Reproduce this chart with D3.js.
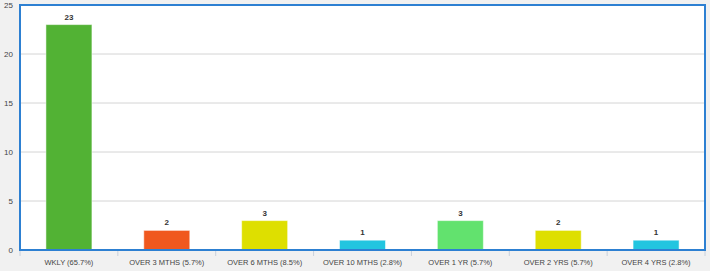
<!DOCTYPE html>
<html lang="en">
<head>
  <meta charset="UTF-8">
  <title>Frequency</title>
  <script src="https://d3js.org/d3.v7.min.js"></script>
  <style>
    body { margin: 0; background: #f1f1f1; font-family: "Liberation Sans", Arial, sans-serif; }
    svg { display: block; }
  </style>
</head>
<body>
  <svg width="710" height="271"></svg>
  <script>
    const categories = ["WKLY (65.7%)", "OVER 3 MTHS (5.7%)", "OVER 6 MTHS (8.5%)", "OVER 10 MTHS (2.8%)",
                        "OVER 1 YR (5.7%)", "OVER 2 YRS (5.7%)", "OVER 4 YRS (2.8%)"];
    const values = [23, 2, 3, 1, 3, 2, 1];
    const colors = ["#52b234", "#f0581e", "#dedf00", "#22c5e0", "#62e26e", "#dedf00", "#22c5e0"];
    const yTicks = [0, 5, 10, 15, 20, 25];

    const svg = d3.select("svg");
    const plotL = 20, plotR = 705, plotT = 5, plotB = 250;

    const x = d3.scaleBand().domain(categories).range([plotL, plotR]).paddingInner(0.53).paddingOuter(0.265);
    const y = d3.scaleLinear().domain([0, 25]).range([plotB, plotT]);

    // plot background
    svg.append("rect")
      .attr("x", plotL).attr("y", plotT)
      .attr("width", plotR - plotL).attr("height", plotB - plotT)
      .attr("fill", "#fff");

    // gridlines
    svg.selectAll("line.grid")
      .data(yTicks.filter(d => d > 0 && d < 25))
      .join("line")
      .attr("x1", plotL).attr("x2", plotR)
      .attr("y1", d => y(d)).attr("y2", d => y(d))
      .attr("stroke", "#d4d4d4").attr("stroke-width", 1);

    // y labels
    svg.selectAll("text.ytick")
      .data(yTicks)
      .join("text")
      .attr("x", 13).attr("y", d => y(d) + 3)
      .attr("text-anchor", "end")
      .attr("font-size", "8px").attr("fill", "#444")
      .text(d => d);

    // bars
    svg.selectAll("rect.bar")
      .data(values)
      .join("rect")
      .attr("x", (d, i) => x(categories[i]))
      .attr("y", d => y(d))
      .attr("width", x.bandwidth())
      .attr("height", d => y(0) - y(d))
      .attr("fill", (d, i) => colors[i])
      .attr("stroke", "rgba(255,255,255,0.5)").attr("stroke-width", 1);

    // value labels
    svg.selectAll("text.val")
      .data(values)
      .join("text")
      .attr("x", (d, i) => x(categories[i]) + x.bandwidth() / 2)
      .attr("y", d => y(d) - 5)
      .attr("text-anchor", "middle")
      .attr("font-size", "8px").attr("font-weight", "bold").attr("fill", "#333")
      .text(d => d);

    // category ticks
    const step = x.step();
    svg.selectAll("line.xtick")
      .data(d3.range(categories.length + 1))
      .join("line")
      .attr("x1", i => plotL + i * step).attr("x2", i => plotL + i * step)
      .attr("y1", plotB).attr("y2", plotB + 6)
      .attr("stroke", "#c8d0dc");

    // category labels
    svg.selectAll("text.xlab")
      .data(categories)
      .join("text")
      .attr("x", d => x(d) + x.bandwidth() / 2)
      .attr("y", 265)
      .attr("text-anchor", "middle")
      .attr("font-size", "7.5px").attr("fill", "#444")
      .text(d => d);

    // border
    svg.append("rect")
      .attr("x", plotL).attr("y", plotT)
      .attr("width", plotR - plotL).attr("height", plotB - plotT)
      .attr("fill", "none").attr("stroke", "#2d80d2").attr("stroke-width", 2);
  </script>
</body>
</html>
